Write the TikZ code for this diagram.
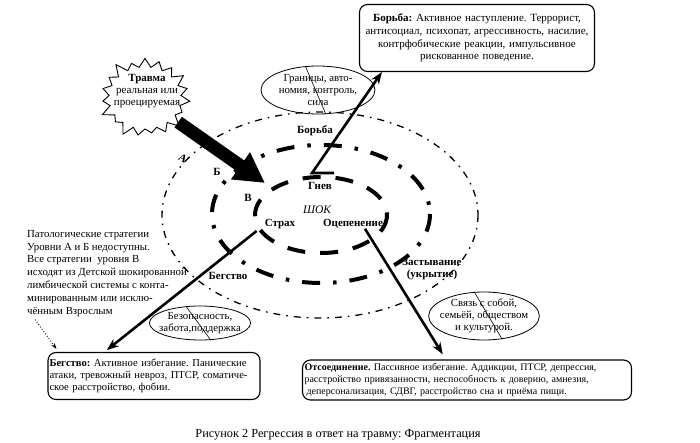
\documentclass[tikz,border=0pt]{standalone}
\usepackage{fontspec}
\setmainfont{Liberation Serif}
\usepackage{tikz}
\usetikzlibrary{shapes.geometric, shapes.symbols, arrows.meta, positioning, calc}
\definecolor{myink}{RGB}{0,0,0}
\frenchspacing
\tikzset{
  txt/.style={font=\fontsize{11}{13}\selectfont, inner sep=0pt},
  lbl/.style={font=\fontsize{11}{12.5}\selectfont\bfseries, inner sep=0pt},
  outbox/.style={rectangle, draw=myink, rounded corners=8pt, line width=1.1pt,
    inner sep=2pt, font=\fontsize{11}{12.8}\selectfont},
  oval/.style={ellipse, draw=myink, line width=0.8pt, inner sep=-5pt,
    align=center, font=\fontsize{10.8}{12.2}\selectfont},
  ringA/.style={draw=myink, line width=1.3pt,
    dash pattern=on 7pt off 6pt on 1.6pt off 6pt},
  ringB/.style={draw=myink, line width=4pt,
    dash pattern=on 18pt off 13pt on 3.5pt off 13pt},
  ringC/.style={draw=myink, line width=4pt, dash pattern=on 18pt off 15pt},
  thickarrow/.style={-{Stealth[length=12pt,width=9pt]}, line width=2.6pt, color=myink},
  traumaarrow/.style={-{Triangle[length=30pt,width=31pt]}, line width=13pt, color=myink},
  strike/.style={draw=myink, line width=0.6pt}
}
\begin{document}
\begin{tikzpicture}[x=1pt, y=-1pt]
  \useasboundingbox (0,0) rectangle (700,443);

  % Levels A, B, C
  \draw[ringA] (320,215) ellipse [x radius=158, y radius=103];
  \draw[ringB] (321,214) ellipse [x radius=109, y radius=69];
  \draw[ringC] (321,215) ellipse [x radius=66, y radius=38];

  \node[lbl, rotate=-30] (lvlA) at (183,158) {А};
  \node[lbl] (lvlB) at (217,172) {Б};
  \node[lbl] (lvlC) at (248,198) {В};
  \node[txt, font=\fontsize{11.5}{12}\selectfont\itshape] (shock) at (317,210) {ШОК};

  % Reactions
  \node[lbl] (fightlbl) at (315,131) {Борьба};
  \node[lbl] (anger) at (320,186) {Гнев};
  \node[lbl] (fear) at (280,224) {Страх};
  \node[lbl] (freeze) at (353,224) {Оцепенение};
  \node[lbl] (flightlbl) at (228,276) {Бегство};
  \node[lbl, align=center] (hidelbl) at (432,269) {Застывание\\(укрытие)};

  % Trauma
  \node[starburst, draw=myink, fill=white, line width=0.9pt, starburst points=19,
    starburst point height=12pt, minimum width=96pt, minimum height=86pt,
    inner sep=0pt] (trauma) at (145,98) {};
  \node[txt, align=center, font=\fontsize{11}{12}\selectfont] (traumatxt) at (147,91)
    {\textbf{Травма}\\реальная или\\проецируемая};
  \coordinate (shockhit) at (265,183);
  \draw[traumaarrow] (trauma.-36) -- (shockhit);

  % Outcome boxes
  \node[outbox, minimum width=235pt, minimum height=67pt, text width=230pt, align=center]
    (fightbox) at (477,38)
    {\textbf{Борьба:} Активное наступление. Террорист,\\
     антисоциал, психопат, агрессивность, насилие,\\
     контрфобические реакции, импульсивное\\
     рискованное поведение.};
  \node[outbox, minimum width=212pt, minimum height=47pt, text width=209pt, align=left,
    inner sep=1.5pt, font=\fontsize{10.6}{11.8}\selectfont]
    (flightbox) at (154,376)
    {\textbf{Бегство:} Активное избегание. Панические\\
     атаки, тревожный невроз, ПТСР, соматиче-\\
     ское расстройство, фобии.};
  \node[outbox, minimum width=329pt, minimum height=40pt, text width=325pt, align=left,
    font=\fontsize{10}{12.4}\selectfont]
    (detachbox) at (467,380)
    {\textbf{Отсоединение.} Пассивное избегание. Аддикции, ПТСР, депрессия,\\
     расстройство привязанности, неспособность к доверию, амнезия,\\
     \hspace*{2pt}деперсонализация, СДВГ, расстройство сна и приёма пищи.};

  % Resources
  \node[oval, minimum width=114pt, minimum height=48pt] (borders) at (318,90)
    {Границы, авто-\\номия, контроль,\\сила};
  \node[oval, minimum width=94pt, minimum height=34pt] (safety) at (200,323)
    {Безопасность,\\забота,поддержка};
  \node[oval, minimum width=106pt, minimum height=48pt] (bonds) at (484,316)
    {Связь с собой,\\семьёй, обществом\\и культурой.};
  \draw[strike] (borders.118) -- (borders.-72);
  \draw[strike] (safety.130) -- (safety.-58);
  \draw[strike] (bonds.112) -- (bonds.-52);

  % Arrows
  \coordinate (zend) at (334,173);
  \coordinate (zfoot) at (312,173);
  \draw[thickarrow] (zend) -- (zfoot) -- ([xshift=23]fightbox.south west);
  \draw[thickarrow, shorten >=3pt] ([xshift=-8,yshift=-2]fear.south west) -- ([xshift=57]flightbox.north west);
  \draw[thickarrow, shorten >=6pt] ([xshift=12]freeze.south) -- ([xshift=144]detachbox.north west);

  % Note
  \node[txt, anchor=north west, align=left, font=\fontsize{10.8}{12.8}\selectfont] (note) at (27,230)
    {Патологические стратегии\\
     Уровни А и Б недоступны.\\
     Все стратегии~ уровня В\\
     исходят из Детской шокированной\\
     лимбической системы с конта-\\
     минированным или исклю-\\
     чённым Взрослым};
  \draw[myink, line width=0.9pt, dotted, -{Stealth[length=6pt,width=4pt]}]
    ([xshift=8,yshift=-3]note.south west) -- ([xshift=9,yshift=3]flightbox.north west);

  \node[txt, font=\fontsize{12.3}{13}\selectfont] (caption) at (338,435)
    {Рисунок 2 Регрессия в ответ на травму: Фрагментация};
\end{tikzpicture}
\end{document}
